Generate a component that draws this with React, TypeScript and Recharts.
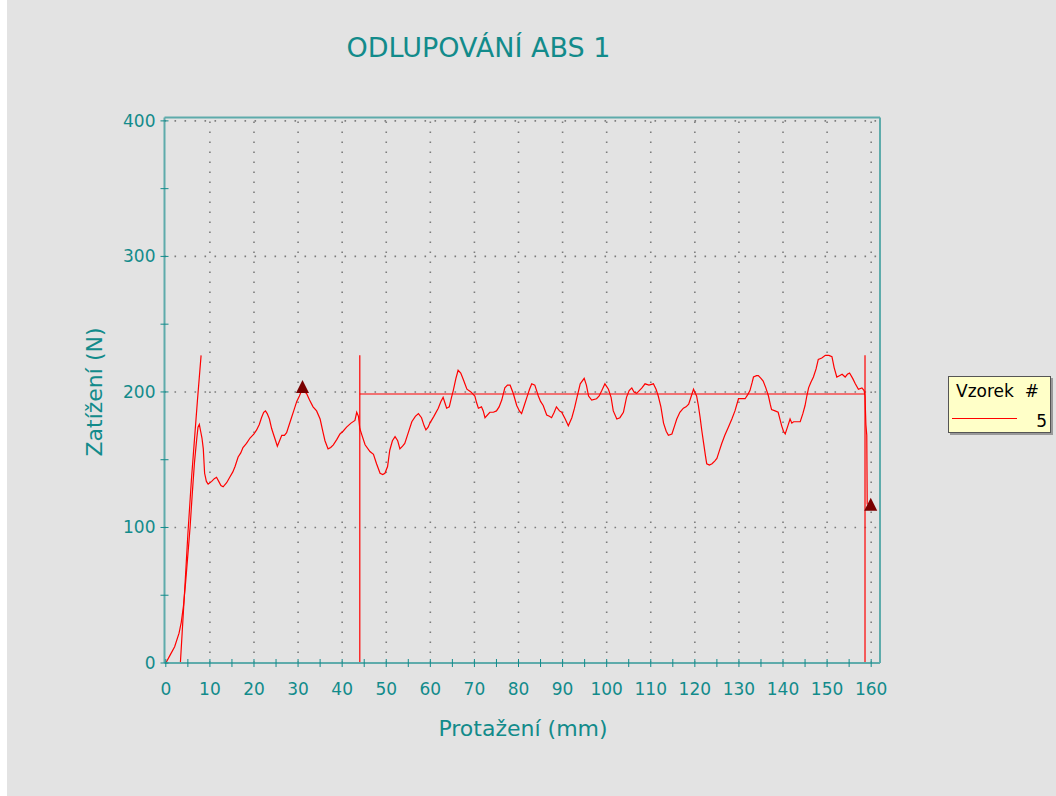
import React from "react";
import { ComposedChart, Line, Scatter, XAxis, YAxis, ReferenceLine } from "recharts";

// Protažení (mm) a zatížení (N) – vzorek 5
const elongation = [
  0, 1, 2, 3, 3.5, 4, 4.5, 5, 5.5, 6, 6.5, 7, 7.3, 7.6, 7.9, 8.2, 8.5, 8.8, 9.2, 9.6,
  10.4, 11, 11.5, 12, 12.5, 13, 13.8, 14.5, 15.2, 15.7, 16.4, 17, 17.5, 18.3, 19.1, 20, 20.6, 21.2, 21.7, 22.2,
  22.6, 23, 23.5, 24, 24.4, 24.9, 25.3, 25.8, 26.3, 26.9, 27.4, 28, 28.5, 29.1, 29.7, 30.3, 30.8, 31.3, 31.9, 32.6,
  33.4, 34.2, 35, 35.6, 36.1, 36.8, 37.4, 38, 38.8, 39.5, 40.2, 41, 42, 42.9, 43.3, 43.7, 44, 44.5, 45.2, 46.3,
  47.1, 47.8, 48.6, 49.2, 49.7, 50.3, 50.8, 51.4, 52, 52.6, 53.1, 53.7, 54.2, 55, 55.8, 56.6, 57.3, 58, 58.6, 59,
  59.5, 59.9, 60.8, 61.8, 62.4, 62.9, 63.3, 63.7, 64.3, 64.8, 65.2, 65.8, 66.3, 66.9, 67.5, 68.3, 69.2, 70.1, 70.5, 70.9,
  71.6, 72, 72.4, 73.5, 74.3, 75, 75.6, 76.2, 76.9, 77.5, 78.1, 78.8, 79.6, 80.2, 80.7, 81.3, 81.9, 82.5, 83, 83.7,
  84.5, 85, 85.6, 86.4, 87, 87.5, 88.1, 88.6, 89.3, 89.8, 90.6, 91.3, 92.1, 92.7, 93.2, 94, 94.9, 95.4, 95.9, 96.6,
  97.7, 98.3, 98.9, 99.6, 100.4, 101, 101.5, 102.3, 103, 103.8, 104.5, 105.1, 105.7, 106.2, 106.8, 107.4, 108, 108.7, 109.6, 110.6,
  111.2, 111.7, 112.3, 112.9, 113.5, 114, 114.8, 115.4, 115.9, 116.6, 117.4, 118, 118.6, 119.2, 119.7, 120.1, 120.4, 120.8, 121.2, 121.6,
  122, 122.4, 122.7, 123.3, 123.9, 124.5, 125, 125.5, 126.1, 126.8, 127.6, 128.4, 129.1, 129.9, 130.6, 131.4, 132, 132.5, 133, 133.3,
  134, 134.4, 135, 135.5, 136.1, 136.7, 137.1, 137.4, 138.2, 138.9, 139.3, 139.7, 140.1, 140.5, 141.1, 141.6, 142, 142.4, 143.2, 143.9,
  144.5, 145, 145.4, 145.8, 146.3, 146.9, 147.5, 148, 148.8, 149.6, 150.4, 151.1, 151.6, 152.2, 152.8, 153.4, 154.1, 154.6, 155.1, 155.8,
  156.4, 157.1, 157.9, 158.4, 158.6, 158.8, 159, 159.1,
];
const load = [
  0, 6, 12, 22, 30, 42, 60, 80, 100, 125, 148, 165, 174, 176, 171, 166, 158, 140, 134, 132,
  134, 136, 137, 134, 131, 130, 133, 137, 141, 145, 152, 155, 159, 162, 166, 169, 172, 176, 181, 185,
  186, 184, 180, 173, 169, 164, 160, 164, 168, 168, 170, 176, 181, 187, 193, 197, 201, 200, 199, 194,
  189, 186, 180, 171, 164, 158, 159, 161, 165, 169, 171, 174, 177, 179, 185, 182, 173, 168, 161, 156,
  154, 147, 140, 139, 140, 145, 157, 164, 167, 164, 158, 160, 162, 170, 178, 182, 184, 181, 175, 172,
  174, 177, 182, 188, 193, 196, 192, 188, 189, 196, 201, 210, 216, 214, 209, 202, 200, 197, 192, 188,
  189, 186, 181, 185, 185, 186, 189, 194, 203, 205, 205, 199, 190, 186, 184, 190, 196, 202, 206, 205,
  197, 193, 190, 183, 182, 181, 185, 189, 186, 185, 180, 175, 181, 188, 195, 206, 210, 205, 197, 194,
  195, 197, 201, 206, 202, 196, 186, 180, 181, 185, 196, 201, 203, 200, 199, 201, 203, 206, 205, 206,
  202, 197, 189, 177, 171, 168, 169, 175, 180, 185, 188, 189, 191, 197, 202, 199, 197, 190, 181, 171,
  162, 153, 147, 146, 147, 149, 151, 156, 162, 168, 174, 180, 186, 195, 195, 195, 198, 201, 207, 211,
  212, 212, 210, 208, 203, 197, 191, 187, 186, 185, 180, 175, 171, 169, 175, 180, 177, 178, 178, 178,
  184, 190, 197, 203, 207, 211, 217, 224, 225, 227, 227, 226, 218, 211, 212, 213, 211, 213, 214, 210,
  206, 202, 203, 201, 197, 176, 168, 117,
];

// přímka náběhu
const slopeX = [3.3, 3.7, 4.3, 5, 5.8, 6.5, 7.2, 7.7, 8];
const slopeY = [0, 22, 55, 95, 135, 165, 195, 215, 227];

// hranice vyhodnocení a průměrná síla
const rangeStart = 44;
const rangeEnd = 158.6;
const rangeTop = 227;
const meanLoad = 198.5;

// vyznačené body (max, přetržení)
const peakX = [31, 159.9];
const peakY = [203, 116];

const xTicks = [0, 5, 10, 15, 20, 25, 30, 35, 40, 45, 50, 55, 60, 65, 70, 75, 80, 85, 90, 95, 100, 105, 110, 115, 120, 125, 130, 135, 140, 145, 150, 155, 160];
const yTicks = [0, 50, 100, 150, 200, 250, 300, 350, 400];
const gridX = [10, 20, 30, 40, 50, 60, 70, 80, 90, 100, 110, 120, 130, 140, 150, 160];
const gridY = [100, 200, 300, 400];

const TEAL = "#128b8b";
const AXIS = "#5eabab";
const RED = "#ff0000";
const FONT = "'DejaVu Sans', Verdana, sans-serif";

const curve = elongation.map((x, i) => ({ x, y: load[i] }));
const slope = slopeX.map((x, i) => ({ x, y: slopeY[i] }));
const startLine = [{ x: rangeStart, y: 0 }, { x: rangeStart, y: rangeTop }];
const endLine = [{ x: rangeEnd, y: 0 }, { x: rangeEnd, y: rangeTop }];
const meanLine = [{ x: rangeStart, y: meanLoad }, { x: rangeEnd, y: meanLoad }];
const peaks = peakX.map((x, i) => ({ x, y: peakY[i] }));

const XTick = ({ x, y, payload }: any) => (
  <g>
    <line x1={x} x2={x} y1={y - 4} y2={y + 4} stroke={TEAL} strokeWidth={1} />
    {payload.value % 10 === 0 && (
      <text x={x} y={y + 32} textAnchor="middle" fill={TEAL} fontSize={17} fontFamily={FONT}>
        {payload.value}
      </text>
    )}
  </g>
);

const YTick = ({ x, y, payload }: any) => (
  <g>
    <line x1={x - 4} x2={x + 4} y1={y} y2={y} stroke={TEAL} strokeWidth={1} />
    {payload.value % 100 === 0 && (
      <text x={x - 9} y={y + 6} textAnchor="end" fill={TEAL} fontSize={17} fontFamily={FONT}>
        {payload.value}
      </text>
    )}
  </g>
);

const Triangle = ({ cx, cy }: any) => (
  <polygon points={`${cx},${cy - 8} ${cx - 6.5},${cy + 5} ${cx + 6.5},${cy + 5}`} fill="#7a0000" />
);

export default function App() {
  return (
    <>
      <style>{"body{margin:0}"}</style>
      <div
        style={{
          position: "relative",
          width: 1049,
          height: 796,
          marginLeft: 7,
          background: "#e3e3e3",
          fontFamily: FONT,
          overflow: "hidden",
        }}
      >
        <div
          style={{
            position: "absolute",
            left: 0,
            width: 943,
            top: 34,
            textAlign: "center",
            fontSize: 27,
            lineHeight: "27px",
            color: TEAL,
            whiteSpace: "nowrap",
          }}
        >
          ODLUPOVÁNÍ ABS 1
        </div>

        <ComposedChart
          width={1049}
          height={796}
          margin={{ top: 117.5, right: 176, bottom: 93, left: 97.5 }}
        >
          <XAxis
            type="number"
            dataKey="x"
            domain={[-0.3, 162]}
            ticks={xTicks}
            interval={0}
            allowDataOverflow
            tickLine={false}
            tickSize={0}
            tickMargin={0}
            tick={XTick}
            height={40}
            axisLine={{ stroke: AXIS, strokeWidth: 2 }}
          />
          <YAxis
            type="number"
            domain={[0, 402.5]}
            ticks={yTicks}
            interval={0}
            allowDataOverflow
            tickLine={false}
            tickSize={0}
            tickMargin={0}
            tick={YTick}
            width={60}
            axisLine={{ stroke: AXIS, strokeWidth: 2 }}
          />

          {gridX.map((v) => (
            <ReferenceLine key={"gx" + v} x={v} stroke="#7c7c7c" strokeWidth={1.6} strokeDasharray="1.6 8.4" />
          ))}
          {gridY.map((v) => (
            <ReferenceLine key={"gy" + v} y={v} stroke="#7c7c7c" strokeWidth={1.6} strokeDasharray="1.6 8.4" />
          ))}
          <ReferenceLine y={402.5} stroke={AXIS} strokeWidth={2} />
          <ReferenceLine x={162} stroke={AXIS} strokeWidth={2} />

          <Line data={slope} dataKey="y" type="linear" stroke={RED} strokeWidth={1.2} dot={false} activeDot={false} isAnimationActive={false} />
          <Line data={startLine} dataKey="y" type="linear" stroke={RED} strokeWidth={1.2} dot={false} activeDot={false} isAnimationActive={false} />
          <Line data={endLine} dataKey="y" type="linear" stroke={RED} strokeWidth={1.2} dot={false} activeDot={false} isAnimationActive={false} />
          <Line data={meanLine} dataKey="y" type="linear" stroke={RED} strokeWidth={1.2} dot={false} activeDot={false} isAnimationActive={false} />
          <Line data={curve} dataKey="y" type="linear" stroke={RED} strokeWidth={1.2} dot={false} activeDot={false} isAnimationActive={false} />
          <Scatter data={peaks} dataKey="y" shape={Triangle} isAnimationActive={false} />
        </ComposedChart>

        <div
          style={{
            position: "absolute",
            left: 0,
            width: 1032,
            top: 718,
            textAlign: "center",
            fontSize: 22,
            lineHeight: "22px",
            color: TEAL,
            whiteSpace: "nowrap",
          }}
        >
          Protažení (mm)
        </div>
        <div
          style={{
            position: "absolute",
            left: 88 - 100,
            top: 392 - 11,
            width: 200,
            textAlign: "center",
            fontSize: 22,
            lineHeight: "22px",
            color: TEAL,
            whiteSpace: "nowrap",
            transform: "rotate(-90deg)",
          }}
        >
          Zatížení (N)
        </div>

        <div
          style={{
            position: "absolute",
            left: 941,
            top: 376,
            width: 101,
            height: 55,
            border: "1px solid #555",
            boxShadow: "2px 2px 0 #999",
            background: "#ffffc8",
            color: "#000",
            fontSize: 17,
            lineHeight: "17px",
          }}
        >
          <div style={{ position: "absolute", left: 7, top: 6, whiteSpace: "pre" }}>Vzorek  #</div>
          <div style={{ position: "absolute", left: 3, top: 41, width: 65, height: 1, background: RED }} />
          <div style={{ position: "absolute", right: 3, top: 36 }}>5</div>
        </div>
      </div>
    </>
  );
}
